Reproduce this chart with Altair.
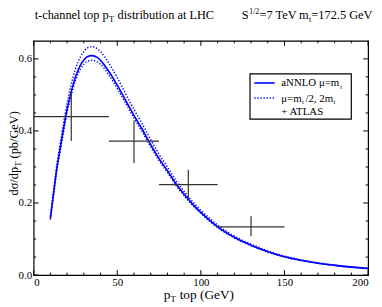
import altair as alt
import pandas as pd

# ---- data ----
pt = [10, 12, 14, 16, 18, 20, 22, 25, 28, 30, 32, 35, 38, 40, 45, 50, 55, 60, 65, 70,
      75, 80, 85, 90, 95, 100, 110, 120, 130, 140, 150, 160, 170, 180, 190, 200]
central = [0.157, 0.23, 0.30, 0.355, 0.41, 0.46, 0.50, 0.55, 0.583, 0.597, 0.606, 0.609,
           0.604, 0.596, 0.565, 0.527, 0.485, 0.443, 0.404, 0.362, 0.323, 0.290, 0.254,
           0.224, 0.197, 0.174, 0.134, 0.105, 0.083, 0.065, 0.051, 0.041, 0.033, 0.027,
           0.022, 0.018]
upper = [0.162, 0.238, 0.31, 0.368, 0.425, 0.477, 0.52, 0.572, 0.606, 0.62, 0.63, 0.634,
         0.628, 0.62, 0.588, 0.548, 0.503, 0.460, 0.419, 0.376, 0.335, 0.300, 0.263,
         0.232, 0.204, 0.180, 0.139, 0.108, 0.086, 0.067, 0.053, 0.042, 0.034, 0.028,
         0.023, 0.019]
lower = [0.154, 0.225, 0.295, 0.348, 0.40, 0.452, 0.49, 0.54, 0.572, 0.585, 0.593, 0.596,
         0.592, 0.585, 0.555, 0.518, 0.477, 0.436, 0.397, 0.356, 0.318, 0.285, 0.250,
         0.220, 0.194, 0.171, 0.132, 0.103, 0.082, 0.064, 0.050, 0.040, 0.033, 0.027,
         0.022, 0.018]

atlas_pt = [22.5, 60, 92.5, 130]
atlas_lo = [0, 45, 75, 110]
atlas_hi = [45, 75, 110, 150]
atlas_val = [0.44, 0.372, 0.251, 0.134]
atlas_ylo = [0.372, 0.311, 0.212, 0.108]
atlas_yhi = [0.509, 0.429, 0.292, 0.163]

x_major = [0, 50, 100, 150, 200]
x_minor = [10, 20, 30, 40, 60, 70, 80, 90, 110, 120, 130, 140, 160, 170, 180, 190]
y_major = [0.0, 0.2, 0.4, 0.6]
y_minor = [0.05, 0.1, 0.15, 0.25, 0.3, 0.35, 0.45, 0.5, 0.55]

# ---- layout ----
W, H = 339, 237.4
X0, Y0 = 34, 39.3   # page position of plot origin
FONT = "Liberation Serif"

xs = alt.Scale(domain=[0, 200], nice=False, zero=False)
ys = alt.Scale(domain=[0, 0.65], nice=False, zero=False)
xaxis = alt.Axis(values=x_major, format="d", title=None, grid=False, domain=False,
                 ticks=False, labelFont=FONT, labelFontSize=11, labelColor="black",
                 labelPadding=2)
yaxis = alt.Axis(values=y_major, format=".1f", title=None, grid=False, domain=False,
                 ticks=False, labelFont=FONT, labelFontSize=11, labelColor="black",
                 labelPadding=2)
one = pd.DataFrame({"a": [0]})

curve_df = pd.DataFrame({"pt": pt, "c": central})
band_df = pd.DataFrame({"pt": pt + pt, "v": upper + lower,
                        "s": ["u"] * len(pt) + ["l"] * len(pt)})
atlas_df = pd.DataFrame({"pt": atlas_pt, "lo": atlas_lo, "hi": atlas_hi,
                         "v": atlas_val, "ylo": atlas_ylo, "yhi": atlas_yhi})

base = alt.Chart(curve_df).mark_line(color="#0000ff", strokeWidth=1.6, interpolate="monotone").encode(
    x=alt.X("pt:Q", scale=xs, axis=xaxis),
    y=alt.Y("c:Q", scale=ys, axis=yaxis),
)

bands = alt.Chart(band_df).mark_line(color="#0000ff", strokeWidth=1.5, strokeDash=[1.3, 1.8],
                                     interpolate="monotone").encode(
    x=alt.X("pt:Q", scale=xs, axis=xaxis),
    y=alt.Y("v:Q", scale=ys, axis=yaxis),
    detail="s:N",
)

hbar = alt.Chart(atlas_df).mark_rule(color="#333333", strokeWidth=1.2).encode(
    x=alt.X("lo:Q", scale=xs, axis=xaxis), x2="hi:Q",
    y=alt.Y("v:Q", scale=ys, axis=yaxis))
vbar = alt.Chart(atlas_df).mark_rule(color="#333333", strokeWidth=1.2).encode(
    x=alt.X("pt:Q", scale=xs, axis=xaxis),
    y=alt.Y("ylo:Q", scale=ys, axis=yaxis), y2="yhi:Q")

# ---- inward ticks on all four sides ----
def xticks(vals, L):
    d = pd.DataFrame({"t": vals})
    b = alt.Chart(d).mark_rule(color="black", strokeWidth=1).encode(
        x=alt.X("t:Q", scale=xs, axis=xaxis), y=alt.value(H), y2=alt.value(H - L))
    t = alt.Chart(d).mark_rule(color="black", strokeWidth=1).encode(
        x=alt.X("t:Q", scale=xs, axis=xaxis), y=alt.value(0), y2=alt.value(L))
    return [b, t]

def yticks(vals, L):
    d = pd.DataFrame({"t": vals})
    l = alt.Chart(d).mark_rule(color="black", strokeWidth=1).encode(
        y=alt.Y("t:Q", scale=ys, axis=yaxis), x=alt.value(0), x2=alt.value(L))
    r = alt.Chart(d).mark_rule(color="black", strokeWidth=1).encode(
        y=alt.Y("t:Q", scale=ys, axis=yaxis), x=alt.value(W), x2=alt.value(W - L))
    return [l, r]

ticks = xticks(x_major, 5) + xticks(x_minor, 2.5) + yticks(y_major, 5) + yticks(y_minor, 2.5)

# ---- text pieces (page coordinates) ----
def txt(s, px, py, size=12, angle=0):
    return alt.Chart(one).mark_text(text=s, font=FONT, fontSize=size, align="left",
                                    baseline="alphabetic", angle=angle, color="black").encode(
        x=alt.value(px - X0), y=alt.value(py - Y0))

texts = [
    # title
    txt("t-channel top p", 35, 17.5, 12.5),
    txt("T", 110.5, 20, 8.5),
    txt("distribution at LHC", 119, 17.5, 12.5),
    txt("S", 245, 17.5, 12.5),
    txt("1/2", 252.5, 12.5, 8),
    txt("=7 TeV", 263, 17.5, 12.5),
    txt("m", 303, 17.5, 12.5),
    txt("t", 313, 20, 8),
    txt("=172.5 GeV", 315.5, 17.5, 12.5),
    # x title
    txt("p", 166, 300.5, 13.5),
    txt("T", 172.8, 303.5, 9),
    txt("top (GeV)", 182, 300.5, 13.5),
    # y title (rotated)
    txt("d\u03c3/dp", 18.5, 196, 12.5, 270),
    txt("T", 21.5, 167, 9, 270),
    txt("(pb/GeV)", 18.5, 158.5, 12.5, 270),
    # legend
    txt("aNNLO \u03bc=m", 285, 85.5, 11),
    txt("t", 344.8, 88, 7),
    txt("\u03bc=m", 285, 101, 11),
    txt("t", 306, 103.5, 7),
    txt("/2, 2m", 309.5, 101, 11),
    txt("t", 338, 103.5, 7),
    txt("+ ATLAS", 285, 114, 11),
]

legend_box = alt.Chart(one).mark_rect(fill="white", stroke="black", strokeWidth=1.2).encode(
    x=alt.value(253.3 - X0), x2=alt.value(356 - X0),
    y=alt.value(72.7 - Y0), y2=alt.value(118.7 - Y0))
leg_solid = alt.Chart(one).mark_rule(color="#0000ff", strokeWidth=1.6).encode(
    x=alt.value(257.7 - X0), x2=alt.value(278.3 - X0), y=alt.value(82 - Y0))
leg_dot = alt.Chart(one).mark_rule(color="#0000ff", strokeWidth=1.5, strokeDash=[1.3, 1.8]).encode(
    x=alt.value(257.7 - X0), x2=alt.value(278.3 - X0), y=alt.value(97.3 - Y0))

chart = alt.layer(
    base, bands, hbar, vbar, *ticks, legend_box, leg_solid, leg_dot, *texts
).properties(
    width=W, height=H,
    autosize=alt.AutoSizeParams(type="none"),
    padding={"left": X0 - 8, "top": Y0 - 8, "right": 6, "bottom": 28},
).configure_view(stroke="black", strokeWidth=1.2)

chart.save("out.html", embed_options={"renderer": "svg", "actions": False})
